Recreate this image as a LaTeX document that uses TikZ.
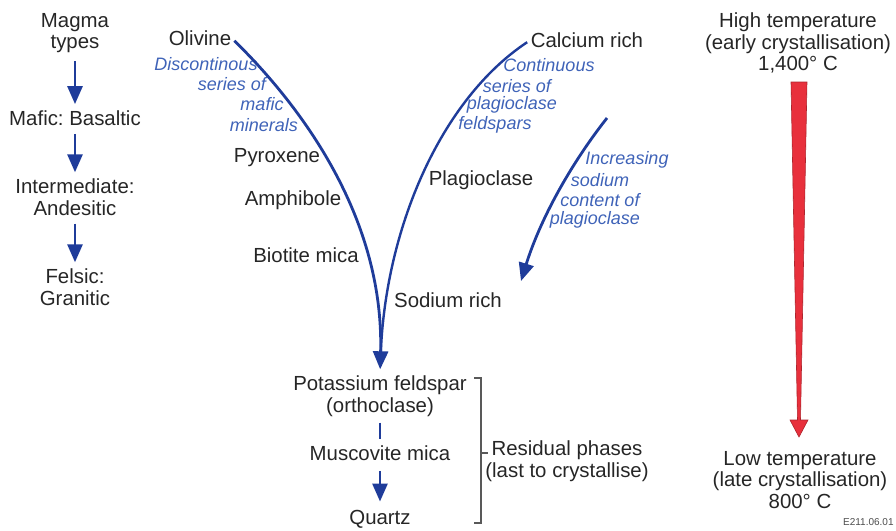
\documentclass[tikz,border=0pt]{standalone}
\usepackage{fontspec}
\setmainfont{Liberation Sans}
\usetikzlibrary{arrows.meta,calc}
\definecolor{arrowblue}{HTML}{1F3C9A}
\definecolor{noteblue}{HTML}{3F63B8}
\definecolor{tempred}{HTML}{E8303C}

\begin{document}
\begin{tikzpicture}[x=0.5pt,y=-0.5pt]
			\tikzset{lbl/.style={inner sep=0pt,align=center,text=black!85,font=\fontsize{10.2}{10.8}\selectfont\frenchspacing},
				note/.style={inner sep=0pt,text=noteblue,font=\fontsize{9}{10}\selectfont\itshape},
				flow/.style={draw=arrowblue,line width=1.4pt,-{Triangle[width=7.5pt,length=9pt]}},
				bond/.style={draw=arrowblue,line width=1.2pt},
				brk/.style={draw=black!65,line width=0.6pt}}
			\useasboundingbox (0,0) rectangle (896,531);
			\node[lbl] (magma) at (75,33) {Magma\\types};
			\node[lbl] (mafic) at (75,118) {Mafic: Basaltic};
			\node[lbl] (inter) at (75,197) {Intermediate:\\Andesitic};
			\node[lbl] (felsic) at (75,287) {Felsic:\\Granitic};
			\draw[flow,shorten <=4pt,shorten >=3pt] (magma) -- (mafic);
			\draw[flow,shorten <=4pt,shorten >=3pt] (mafic) -- (inter);
			\draw[flow,shorten <=4pt,shorten >=3pt] (inter) -- (felsic);
			\node[lbl] (olivine) at (200,38) {Olivine};
			\node[lbl] (pyroxene) at (277,158) {Pyroxene};
			\node[lbl] (amphibole) at (293,200) {Amphibole};
			\node[lbl] (biotite) at (306,255) {Biotite mica};
			\node[note] (disc1) at (206,64) {Discontinous};
			\node[note] (disc2) at (232,84) {series of};
			\node[note] (disc3) at (262,104) {mafic};
			\node[note] (disc4) at (264,125) {minerals};
			\node[lbl] (calcium) at (587,40) {Calcium rich};
			\node[lbl] (plagio) at (481,180) {Plagioclase};
			\node[lbl] (sodium) at (448,300) {Sodium rich};
			\node[note] (cont1) at (549,65) {Continuous};
			\node[note] (cont2) at (517,86) {series of};
			\node[note] (cont3) at (512,105) {plagioclase};
			\node[note] (cont4) at (495,125) {feldspars};
			\node[note] (incr1) at (627,160) {Increasing};
			\node[note] (incr2) at (600,180) {sodium};
			\node[note] (incr3) at (600,200) {content of};
			\node[note] (incr4) at (595,220) {plagioclase};
			\node[lbl] (potassium) at (380,396) {Potassium feldspar\\(orthoclase)};
			\node[lbl] (muscovite) at (380,453) {Muscovite mica};
			\node[lbl] (quartz) at (380,519) {Quartz};
			\node[lbl] (residual) at (567,461) {Residual phases\\(last to crystallise)};
			\draw[flow,shorten <=2pt,shorten >=3pt] (olivine.east) .. controls (307,112) and (384,222) .. (potassium.north);
			\draw[bond,shorten <=2pt,shorten >=10pt] (calcium.west) .. controls (440,100) and (385,230) .. (potassium.north);
			\coordinate (naup) at (607,118);
			\coordinate (nadown) at (521,281);
			\draw[flow] (naup) .. controls (570,165) and (540,220) .. (nadown);
			\draw[bond,shorten <=3pt,shorten >=3pt] (potassium) -- (muscovite);
			\draw[flow,shorten <=5pt,shorten >=4pt] (muscovite) -- (quartz);
			\draw[brk] (474,378) -- (481,378) -- (481,523) -- (474,523);
			\draw[brk] (481,453) -- (488,453);
			\node[lbl] (high) at (798,43) {High temperature\\(early crystallisation)\\1,400° C};
			\node[lbl] (low) at (800,480) {Low temperature\\(late crystallisation)\\800° C};
			\fill[tempred,draw=tempred!75!black,line width=0.3pt] (791,82) -- (807,82) -- (800.5,420) -- (808,420) -- (799,437) -- (790,420) -- (797.5,420) -- cycle;
			\node[inner sep=0pt,anchor=east,text=black!70,font=\fontsize{5}{6}\selectfont] (code) at (894,522) {E211.06.01};
		\end{tikzpicture}
\end{document}
